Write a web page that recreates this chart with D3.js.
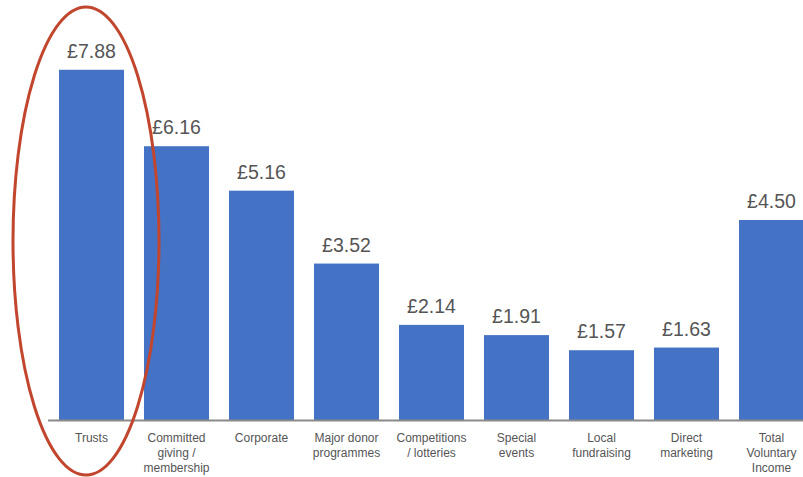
<!DOCTYPE html>
<html><head><meta charset="utf-8">
<script src="https://cdn.jsdelivr.net/npm/d3@7"></script>
<style>body{margin:0;background:#fff}svg{display:block}</style>
</head><body>
<svg id="c" width="803" height="477"></svg>
<script>
const categories = [
  ["Trusts"],
  ["Committed","giving /","membership"],
  ["Corporate"],
  ["Major donor","programmes"],
  ["Competitions","/ lotteries"],
  ["Special","events"],
  ["Local","fundraising"],
  ["Direct","marketing"],
  ["Total","Voluntary","Income"]
];
const values = [7.88, 6.16, 5.16, 3.52, 2.14, 1.91, 1.57, 1.63, 4.50];
const valueLabels = ["£7.88","£6.16","£5.16","£3.52","£2.14","£1.91","£1.57","£1.63","£4.50"];

const svg = d3.select("#c");
const ids = d3.range(values.length);
const x = d3.scaleBand().domain(ids).range([49, 814]).paddingInner(0.235).paddingOuter(0.1175);
const y = d3.scaleLinear().domain([0, 9]).range([420, 20]);

svg.selectAll("rect.bar").data(values).join("rect")
  .attr("class","bar")
  .attr("x",(d,i)=>x(i)).attr("width",x.bandwidth())
  .attr("y",d=>y(d)).attr("height",d=>y(0)-y(d))
  .attr("fill","#4472c4");

svg.append("line").attr("x1",48).attr("x2",803).attr("y1",y(0)+0.5).attr("y2",y(0)+0.5)
  .attr("stroke","#8a8a8a").attr("stroke-width",2);

svg.selectAll("text.val").data(values).join("text")
  .attr("class","val")
  .attr("x",(d,i)=>x(i)+x.bandwidth()/2).attr("y",d=>y(d)-12)
  .attr("text-anchor","middle").attr("font-family","Liberation Sans, Arial, sans-serif")
  .attr("font-size",19.5).attr("fill","#555")
  .text((d,i)=>valueLabels[i]);

const cat = svg.selectAll("text.cat").data(categories).join("text")
  .attr("class","cat")
  .attr("text-anchor","middle").attr("font-family","Liberation Sans, Arial, sans-serif")
  .attr("font-size",12).attr("fill","#555");
cat.each(function(lines,i){
  d3.select(this).selectAll("tspan").data(lines).join("tspan")
    .attr("x",x(i)+x.bandwidth()/2).attr("y",(l,j)=>442+j*15).text(l=>l);
});

svg.append("ellipse").attr("cx",86).attr("cy",241).attr("rx",73).attr("ry",234)
  .attr("fill","none").attr("stroke","#c2452d").attr("stroke-width",3);
</script>
</body></html>
